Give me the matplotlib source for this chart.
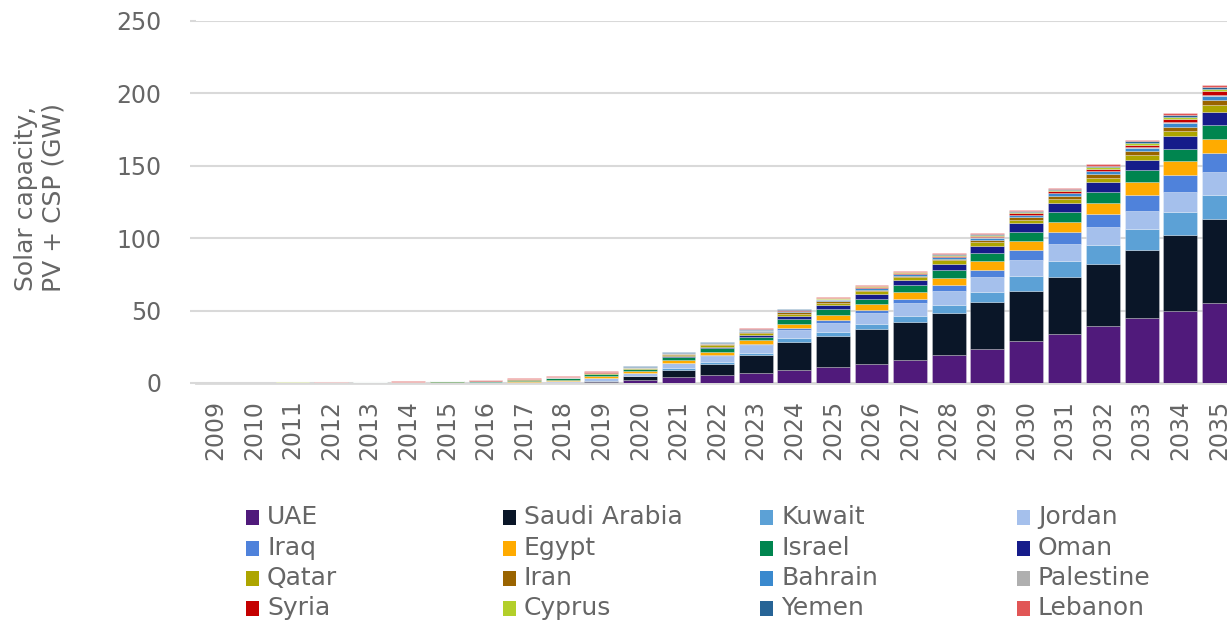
import matplotlib
matplotlib.use("Agg")
import matplotlib.pyplot as plt
from matplotlib.patches import Rectangle
import numpy as np

years = [str(y) for y in range(2009, 2036)]

countries = ["UAE", "Saudi Arabia", "Kuwait", "Jordan", "Iraq", "Egypt", "Israel", "Oman",
             "Qatar", "Iran", "Bahrain", "Palestine", "Syria", "Cyprus", "Yemen", "Lebanon"]

uae = [0, 0, 0, 0, 0.05, 0.1, 0.1, 0.2, 0.3, 0.4, 0.8, 2.3, 4.1, 5.5, 6.9, 8.8, 10.8, 13.1, 15.7, 19.6, 23.5, 28.8, 33.9, 39.4, 44.9, 50.0, 55.3]
saudi = [0, 0, 0, 0, 0, 0.02, 0.03, 0.05, 0.05, 0.1, 0.4, 2.5, 5.1, 7.9, 12.5, 19.8, 21.9, 24.5, 26.7, 28.8, 32.3, 35.0, 39.1, 42.6, 46.8, 52.1, 58.1]
kuwait = [0, 0, 0, 0, 0, 0, 0, 0, 0.02, 0.05, 0.1, 0.2, 1.0, 1.1, 1.6, 2.7, 2.8, 3.4, 3.9, 5.7, 7.3, 10.4, 11.5, 13.1, 14.5, 15.9, 16.4]
jordan = [0, 0, 0, 0, 0.01, 0.02, 0.2, 0.3, 0.4, 1.0, 2.3, 2.0, 3.4, 4.4, 5.3, 5.6, 6.2, 7.4, 9.0, 9.5, 10.4, 10.8, 11.5, 12.4, 12.9, 13.8, 15.7]
iraq = [0, 0, 0, 0, 0, 0, 0, 0, 0, 0, 0.1, 0.1, 0.5, 0.5, 0.7, 1.1, 1.8, 2.1, 3.0, 4.1, 4.8, 6.9, 8.1, 9.5, 10.9, 12.0, 13.1]
egypt = [0.02, 0.02, 0.02, 0.02, 0.03, 0.05, 0.05, 0.1, 0.3, 0.6, 0.9, 1.0, 2.1, 2.3, 2.7, 3.0, 3.7, 3.9, 4.6, 5.1, 6.0, 6.5, 6.9, 7.6, 8.5, 9.2, 9.9]
israel = [0.15, 0.2, 0.25, 0.25, 0.3, 0.6, 0.7, 0.9, 1.1, 1.2, 1.5, 1.3, 1.6, 2.3, 2.3, 3.0, 3.7, 3.9, 4.6, 5.1, 5.8, 6.0, 6.9, 7.4, 8.3, 8.8, 9.9]
oman = [0, 0, 0, 0, 0, 0, 0, 0, 0, 0, 0.2, 0.5, 0.7, 0.7, 1.4, 2.3, 3.0, 3.5, 3.7, 4.6, 4.8, 6.0, 6.5, 6.7, 7.3, 8.5, 8.8]
qatar = [0, 0, 0, 0, 0, 0, 0, 0, 0.05, 0.1, 0.3, 0.3, 1.0, 1.3, 1.4, 1.6, 1.6, 1.6, 1.8, 2.1, 2.6, 2.5, 2.8, 3.0, 3.5, 3.7, 4.6]
iran = [0, 0, 0, 0, 0, 0.02, 0.03, 0.05, 0.2, 0.2, 0.3, 0.3, 0.4, 0.7, 0.7, 0.9, 1.0, 1.1, 1.2, 1.1, 1.3, 1.5, 1.8, 2.3, 2.5, 3.0, 3.7]
bahrain = [0, 0, 0, 0, 0, 0, 0, 0, 0, 0.1, 0.2, 0.2, 0.4, 0.5, 0.7, 1.0, 0.9, 0.9, 0.9, 1.2, 1.4, 1.5, 1.9, 2.3, 2.3, 2.7, 2.5]
palestine = [0, 0, 0, 0.01, 0.01, 0.02, 0.03, 0.04, 0.05, 0.1, 0.1, 0.1, 0.1, 0.15, 0.2, 0.2, 0.3, 0.3, 0.3, 0.3, 0.3, 0.4, 0.4, 0.4, 0.4, 0.5, 0.6]
syria = [0, 0, 0, 0.1, 0.1, 0.1, 0.1, 0.1, 0.1, 0.1, 0.1, 0.1, 0.2, 0.2, 0.3, 0.3, 0.4, 0.6, 0.6, 0.7, 0.8, 1.0, 1.2, 1.4, 1.9, 2.3, 2.8]
cyprus = [0.1, 0.1, 0.1, 0.1, 0.1, 0.1, 0.1, 0.1, 0.1, 0.2, 0.2, 0.2, 0.2, 0.2, 0.2, 0.2, 0.3, 0.4, 0.4, 0.5, 0.6, 0.8, 0.9, 1.1, 1.1, 1.2, 1.5]
yemen = [0, 0, 0, 0, 0, 0, 0.05, 0.1, 0.2, 0.2, 0.3, 0.3, 0.3, 0.4, 0.4, 0.3, 0.4, 0.6, 0.6, 0.7, 0.8, 0.7, 0.9, 1.0, 1.2, 1.5, 1.8]
lebanon = [0, 0, 0, 0.2, 0.2, 0.2, 0.2, 0.3, 0.3, 0.3, 0.3, 0.3, 0.3, 0.4, 0.4, 0.3, 0.4, 0.5, 0.5, 0.6, 0.6, 0.5, 0.7, 0.8, 1.1, 1.3, 1.4]

series = [uae, saudi, kuwait, jordan, iraq, egypt, israel, oman,
          qatar, iran, bahrain, palestine, syria, cyprus, yemen, lebanon]

colors = ["#501a7b", "#0a1628", "#5ca1d6", "#a5c0ec", "#4f82db", "#ffab00", "#00854f", "#161c8a",
          "#ada500", "#9a6400", "#3a89ce", "#afafaf", "#c40000", "#b3cf2a", "#276496", "#e15656"]

ytick_vals = [0, 50, 100, 150, 200, 250]

TXT = "#666666"
GRID = "#d9d9d9"
plt.rcParams['font.family'] = ['DejaVu Sans']

W, H = 1227, 620
fig = plt.figure(figsize=(W / 100, H / 100), dpi=100)
ax_left = 196 / W
ax_bottom = (H - 383) / H
ax_height = 362 / H
ax_width = 27 * 38.6 / W
ax = fig.add_axes([ax_left, ax_bottom, ax_width, ax_height])

x = np.arange(len(years))
bottom = np.zeros(len(years))
for name, vals, c in zip(countries, series, colors):
    v = np.array(vals, dtype=float)
    ax.bar(x, v, width=0.88, bottom=bottom, color=c, edgecolor=(1, 1, 1, 0.45),
           linewidth=0.4, label=name, zorder=3)
    bottom += v

ax.set_xlim(-0.5, len(years) - 0.5)
ax.set_ylim(0, 250)
ax.set_yticks(ytick_vals)
ax.set_yticklabels([str(v) for v in ytick_vals])
ax.set_xticks(x)
ax.set_xticklabels(years, rotation=90)
ax.grid(axis='y', color=GRID, linewidth=1.5, zorder=0)
for s in ['top', 'right', 'left']:
    ax.spines[s].set_visible(False)
ax.spines['bottom'].set_color(GRID)
ax.spines['bottom'].set_linewidth(2)
ax.spines['bottom'].set_zorder(2)
ax.tick_params(axis='y', length=4, width=1.5, color=GRID, labelcolor=TXT, labelsize=17, pad=21)
ax.tick_params(axis='x', length=0, labelcolor=TXT, labelsize=17, pad=12)

fig.text(40 / W, 1 - 198 / H, "Solar capacity,\nPV + CSP (GW)", rotation=90,
         ha='center', va='center', multialignment='center', fontsize=18, color=TXT,
         linespacing=1.2)

# legend drawn manually in a 4-column grid, row-wise order
col_x = [246, 503, 760, 1017]
row_y = [517, 548, 578, 608]
for i, (name, c) in enumerate(zip(countries, colors)):
    r, cidx = divmod(i, 4)
    px, py = col_x[cidx], row_y[r]
    fig.patches.append(Rectangle((px / W, 1 - (py + 7.5) / H), 13 / W, 15 / H,
                                 transform=fig.transFigure, facecolor=c, edgecolor='none'))
    fig.text((px + 21) / W, 1 - py / H, name, ha='left', va='center',
             fontsize=18, color=TXT)

fig.savefig("out.png", dpi=100)
